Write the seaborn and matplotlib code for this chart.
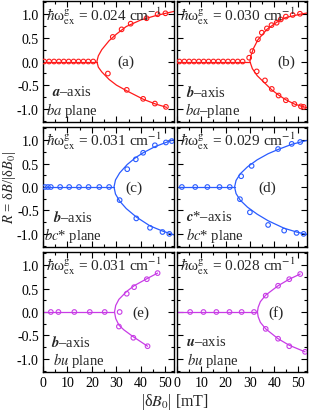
import matplotlib
matplotlib.use('Agg')
import matplotlib.pyplot as plt
import seaborn as sns
import pandas as pd
from matplotlib.ticker import MultipleLocator

# ---- data ----
panel_tags = ['(a)', '(b)', '(c)', '(d)', '(e)', '(f)']
exchange = ['0.024', '0.030', '0.031', '0.029', '0.031', '0.028']
axis_names = [r'$\mathbfit{a}$–axis', r'$\mathbfit{b}$–axis', r'$\mathbfit{b}$–axis',
              r'$\mathbfit{c}$*–axis', r'$\mathbfit{b}$–axis', r'$\mathbfit{u}$–axis']
plane_names = [r'$ba$ plane', r'$ba$–plane', r'$bc$* plane', r'$bc$* plane',
               r'$bu$ plane', r'$bu$ plane']
colors = ['#ff1a1a', '#ff1a1a', '#2a5cff', '#2a5cff', '#c83ce6', '#c83ce6']

# measured points (dB0 in mT, R)
a_pts_x = [0.5, 2.5, 4.5, 6.5, 8.5, 10.5, 12.5, 14.5, 16.5, 18.5, 20.5,
           28.5, 32.1, 35.8, 42.3, 46.8, 50.0,
           26.5, 34.2, 40.9, 45.7, 50.2]
a_pts_r = [0, 0, 0, 0, 0, 0, 0, 0, 0, 0, 0,
           0.52, 0.68, 0.80, 0.915, 1.0, 1.02,
           -0.255, -0.60, -0.79, -0.89, -0.96]
b_pts_x = [1, 3, 5, 7, 9, 11, 13, 15, 17, 19, 21, 23, 25, 27,
           29.7, 31, 33.3, 34.9, 37, 38.9, 41, 42.7, 44.8, 47.6, 50.6,
           32.8, 36.2, 39, 41.8, 44.8, 48.3, 51, 52.1]
b_pts_r = [0, 0, 0, 0, 0, 0, 0, 0, 0, 0, 0, 0, 0, 0,
           0.08, 0.22, 0.47, 0.61, 0.70, 0.77, 0.82, 0.89, 0.95, 0.985, 1.01,
           -0.21, -0.40, -0.58, -0.72, -0.82, -0.90, -0.95, -0.96]
c_pts_x = [0.8, 2.0, 3.2, 7.0, 10.7, 14.7, 18.6, 23.0, 27.0,
           34.4, 37.9, 40.9, 45.7, 50.2, 52.6,
           31.3, 38.1, 43.7, 48.8, 51.6]
c_pts_r = [0, 0, 0, 0, 0, 0, 0, 0, 0,
           0.38, 0.59, 0.73, 0.89, 0.95, 0.98,
           -0.28, -0.67, -0.87, -0.96, -1.0]
d_pts_x = [2.0, 7.5, 12.5, 17.5, 21.7,
           26.4, 30.7, 41.6, 47.2, 50.7,
           25.9, 30.0, 37.5, 44.1, 49.2, 52.1]
d_pts_r = [0, 0, 0, 0, 0,
           0.23, 0.45, 0.81, 0.92, 0.96,
           -0.26, -0.54, -0.81, -0.93, -0.98, -1.0]
e_pts_x = [3.2, 6.3, 12.8, 19.1, 25.2, 31.3,
           34.2, 37.2, 42.4, 46.8,
           31.0, 36.9, 42.7]
e_pts_r = [0, 0, 0, 0, 0, 0,
           0.39, 0.53, 0.70, 0.83,
           -0.31, -0.55, -0.73]
f_pts_x = [5.4, 10.9, 16.2, 21.6, 26.6, 31.7,
           36.5, 41.6, 46.2, 50.7,
           36.5, 41.6, 46.2, 52.7]
f_pts_r = [0, 0, 0, 0, 0, 0,
           0.35, 0.56, 0.70, 0.81,
           -0.36, -0.57, -0.73, -0.85]

# fitted curves (lower end -> vertex -> upper end)
a_fit_x = [50.5, 46, 41, 34.2, 30, 27, 24, 22.6, 22, 22.6, 24, 27, 30, 34, 40, 46, 53.5]
a_fit_r = [-0.97, -0.90, -0.80, -0.62, -0.50, -0.38, -0.22, -0.12, 0,
           0.12, 0.25, 0.44, 0.58, 0.74, 0.88, 0.97, 1.06]
b_fit_x = [53.5, 48.3, 44.8, 41.8, 39, 36.2, 33, 31, 30, 30.4, 31.5, 33.3, 37, 41, 44.8, 50.6, 54]
b_fit_r = [-0.98, -0.90, -0.81, -0.71, -0.60, -0.46, -0.30, -0.15, 0,
           0.12, 0.28, 0.46, 0.68, 0.83, 0.93, 1.0, 1.03]
c_fit_x = [54, 48.8, 43.7, 38.1, 34, 31.3, 29.6, 29, 29.6, 31.3, 34.4, 37.9, 40.9, 45.7, 50.2, 54]
c_fit_r = [-1.03, -0.94, -0.83, -0.64, -0.46, -0.30, -0.15, 0,
           0.15, 0.30, 0.48, 0.63, 0.73, 0.86, 0.95, 1.02]
d_fit_x = [54, 49.2, 44.1, 37.5, 33, 29, 26, 24.3, 23.7, 24.3, 26, 29, 33, 37.5, 41.6, 47.2, 54]
d_fit_r = [-1.02, -0.96, -0.88, -0.72, -0.58, -0.43, -0.28, -0.14, 0,
           0.14, 0.28, 0.43, 0.58, 0.71, 0.80, 0.91, 1.0]
e_fit_x = [42.7, 36.9, 33, 31, 29.7, 29.2, 29.7, 31, 34.2, 37.2, 42.4, 46.8]
e_fit_r = [-0.73, -0.53, -0.38, -0.28, -0.14, 0, 0.14, 0.27, 0.44, 0.56, 0.71, 0.83]
f_fit_x = [52.7, 46.2, 41.6, 36.5, 34.3, 33.4, 33.1, 33.4, 34.3, 36.5, 41.6, 46.2, 50.7]
f_fit_r = [-0.85, -0.71, -0.57, -0.36, -0.22, -0.10, 0, 0.10, 0.22, 0.36, 0.56, 0.70, 0.81]

# critical field where the splitting opens
vertex = [22, 30, 29, 23.7, 29.2, 33.1]

pts_x = [a_pts_x, b_pts_x, c_pts_x, d_pts_x, e_pts_x, f_pts_x]
pts_r = [a_pts_r, b_pts_r, c_pts_r, d_pts_r, e_pts_r, f_pts_r]
fit_x = [a_fit_x, b_fit_x, c_fit_x, d_fit_x, e_fit_x, f_fit_x]
fit_r = [a_fit_r, b_fit_r, c_fit_r, d_fit_r, e_fit_r, f_fit_r]

# text placement
tag_x = [34, 44.8, 37, 37.2, 40, 40.7]
axis_xpos = [0.07, 0.07, 0.08, 0.07, 0.06, 0.07]
plane_xpos = [0.02, 0.06, 0.01, 0.07, 0.08, 0.08]

sns.set_theme(style='ticks')
plt.rcParams['font.family'] = ['Liberation Serif', 'DejaVu Serif']
plt.rcParams['mathtext.fontset'] = 'stix'
plt.rcParams['axes.unicode_minus'] = False
plt.rcParams['axes.linewidth'] = 1.0
plt.rcParams['axes.edgecolor'] = 'black'

fig = plt.figure(figsize=(3.10, 4.14), dpi=100)

lefts = [43 / 310, 177 / 310]
widths = [131 / 310, 130 / 310]
bottoms = [1 - 123 / 414, 1 - 248 / 414, 1 - 373 / 414]
heights = [121 / 414, 120 / 414, 120 / 414]

for i in range(6):
    row, col = i // 2, i % 2
    ax = fig.add_axes([lefts[col], bottoms[row], widths[col], heights[row]])
    c = colors[i]

    sns.lineplot(x=[0, vertex[i]], y=[0, 0], color=c, lw=0.9, ax=ax)
    fit_df = pd.DataFrame({'B': fit_x[i], 'R': fit_r[i]})
    sns.lineplot(data=fit_df, x='B', y='R', sort=False, estimator=None,
                 color=c, lw=0.9, ax=ax)
    pts_df = pd.DataFrame({'B': pts_x[i], 'R': pts_r[i]})
    sns.scatterplot(data=pts_df, x='B', y='R', marker='o', s=11,
                    facecolors='none', edgecolor=c, linewidth=0.8, ax=ax, zorder=3)

    ax.set_xlim(0, 53.5)
    ax.set_ylim(-1.28, 1.28)
    ax.xaxis.set_major_locator(MultipleLocator(10))
    ax.xaxis.set_minor_locator(MultipleLocator(5))
    ax.yaxis.set_major_locator(MultipleLocator(0.5))
    ax.yaxis.set_minor_locator(MultipleLocator(0.25))
    ax.tick_params(which='both', direction='in', top=True, right=True,
                   labelsize=10, pad=3, width=0.8, colors='black')
    ax.tick_params(which='major', length=4)
    ax.tick_params(which='minor', length=2)
    ax.yaxis.set_major_formatter(matplotlib.ticker.FormatStrFormatter('%.1f'))
    ax.set_xlabel('')
    ax.set_ylabel('')
    if col == 1:
        ax.tick_params(labelleft=False)
    if row < 2:
        ax.tick_params(labelbottom=False)

    ax.text(0.025, 0.975, r'$\hbar$ω$^{\rm g}_{\rm ex}$ = ' + exchange[i] + r' cm$^{-1}$',
            transform=ax.transAxes, ha='left', va='top', fontsize=11)
    ax.text(tag_x[i], 0, panel_tags[i], ha='center', va='center', fontsize=11)
    ax.text(axis_xpos[i], 0.255, axis_names[i], transform=ax.transAxes,
            ha='left', va='center', fontsize=10.5)
    ax.text(plane_xpos[i], 0.105, plane_names[i], transform=ax.transAxes,
            ha='left', va='center', fontsize=10.5)

fig.text(0.03, 0.548, r'$R$ = δ$B$/|δ$B_0$|', rotation=90,
         ha='center', va='center', fontsize=10.5)
fig.text(0.565, 0.028, r'|δ$B_0$| [mT]', ha='center', va='center', fontsize=11.5)

plt.savefig('out.png', dpi=100)
print('done')
